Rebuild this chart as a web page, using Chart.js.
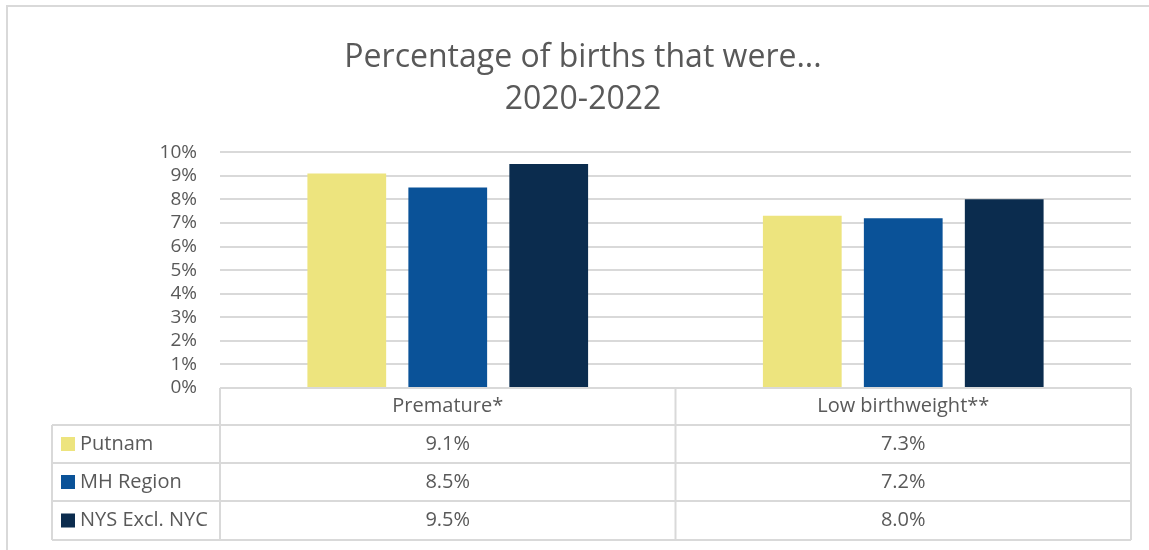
<!DOCTYPE html>
<html>
<head>
<meta charset="utf-8">
<script src="https://cdn.jsdelivr.net/npm/chart.js@4.4.0/dist/chart.umd.min.js"></script>
<style>
  html, body { margin: 0; padding: 0; background: #fff; }
  #wrap { width: 1149px; height: 550px; }
</style>
</head>
<body>
<div id="wrap"><canvas id="birthChart" width="1149" height="550"></canvas></div>
<script>
// data
const categories = ['Premature*', 'Low birthweight**'];
const seriesNames = ['Putnam', 'MH Region', 'NYS Excl. NYC'];
const putnam = [9.1, 7.3];
const mhRegion = [8.5, 7.2];
const nysExclNyc = [9.5, 8.0];
const yTicks = [0, 1, 2, 3, 4, 5, 6, 7, 8, 9, 10];

const colors = ['#EDE47E', '#0A5298', '#0B2C4E'];
const textColor = '#595959';
const lineColor = '#D9D9D9';
const font = "'Open Sans', sans-serif";

// draws the data table under the plot, plus the chart frame
const tablePlugin = {
  id: 'dataTable',
  afterDraw(chart) {
    const ctx = chart.ctx;
    const area = chart.chartArea;
    const x = chart.scales.x;
    const rows = [area.bottom, 425, 463, 501, 540];
    const labelLeft = 52;
    const mid = (x.getPixelForValue(0) + x.getPixelForValue(1)) / 2;
    ctx.save();

    // frame
    ctx.strokeStyle = lineColor;
    ctx.lineWidth = 2;
    ctx.strokeRect(7, 6, 1160, 560);

    ctx.beginPath();
    // horizontal lines
    ctx.moveTo(area.left, rows[0]); ctx.lineTo(area.right, rows[0]);
    for (let i = 1; i < rows.length; i++) {
      ctx.moveTo(labelLeft, rows[i]); ctx.lineTo(area.right, rows[i]);
    }
    // vertical lines
    ctx.moveTo(labelLeft, rows[1]); ctx.lineTo(labelLeft, rows[4]);
    ctx.moveTo(area.left, rows[0]); ctx.lineTo(area.left, rows[4]);
    ctx.moveTo(mid, rows[0]); ctx.lineTo(mid, rows[4]);
    ctx.moveTo(area.right, rows[0]); ctx.lineTo(area.right, rows[4]);
    ctx.stroke();

    ctx.fillStyle = textColor;
    ctx.font = '20px ' + font;
    ctx.textBaseline = 'middle';
    ctx.textAlign = 'center';
    categories.forEach((c, i) => {
      ctx.fillText(c, x.getPixelForValue(i), (rows[0] + rows[1]) / 2);
    });

    chart.data.datasets.forEach((ds, r) => {
      const cy = (rows[r + 1] + rows[r + 2]) / 2;
      ctx.fillStyle = ds.backgroundColor;
      ctx.fillRect(61, cy - 7, 14, 14);
      ctx.fillStyle = textColor;
      ctx.textAlign = 'left';
      ctx.fillText(ds.label, 80, cy);
      ctx.textAlign = 'center';
      ds.data.forEach((v, i) => {
        ctx.fillText(v.toFixed(1) + '%', x.getPixelForValue(i), cy);
      });
    });
    ctx.restore();
  }
};

const ctx = document.getElementById('birthChart').getContext('2d');
const birthChart = new Chart(ctx, {
  type: 'bar',
  data: {
    labels: categories,
    datasets: [
      { label: seriesNames[0], data: putnam, backgroundColor: colors[0] },
      { label: seriesNames[1], data: mhRegion, backgroundColor: colors[1] },
      { label: seriesNames[2], data: nysExclNyc, backgroundColor: colors[2] }
    ]
  },
  options: {
    responsive: false,
    animation: false,
    layout: { padding: { left: 35, right: 18, top: 30, bottom: 162 } },
    categoryPercentage: 0.665,
    barPercentage: 0.78,
    plugins: {
      legend: { display: false },
      tooltip: { enabled: false },
      title: {
        display: true,
        text: ['Percentage of births that were...', '2020-2022'],
        color: textColor,
        font: { family: font, size: 32, weight: 'normal', lineHeight: 1.3 },
        padding: { top: 7, bottom: 32 }
      }
    },
    scales: {
      x: {
        display: false
      },
      y: {
        min: 0,
        max: 10,
        afterBuildTicks(scale) { scale.ticks = yTicks.map(v => ({ value: v })); },
        afterFit(scale) { scale.width = 185; },
        ticks: {
          color: textColor,
          font: { family: font, size: 19 },
          padding: 23,
          autoSkip: false,
          callback: v => v + '%'
        },
        grid: { color: lineColor, lineWidth: 2, drawTicks: false },
        border: { display: false }
      }
    }
  },
  plugins: [tablePlugin]
});
</script>
</body>
</html>
